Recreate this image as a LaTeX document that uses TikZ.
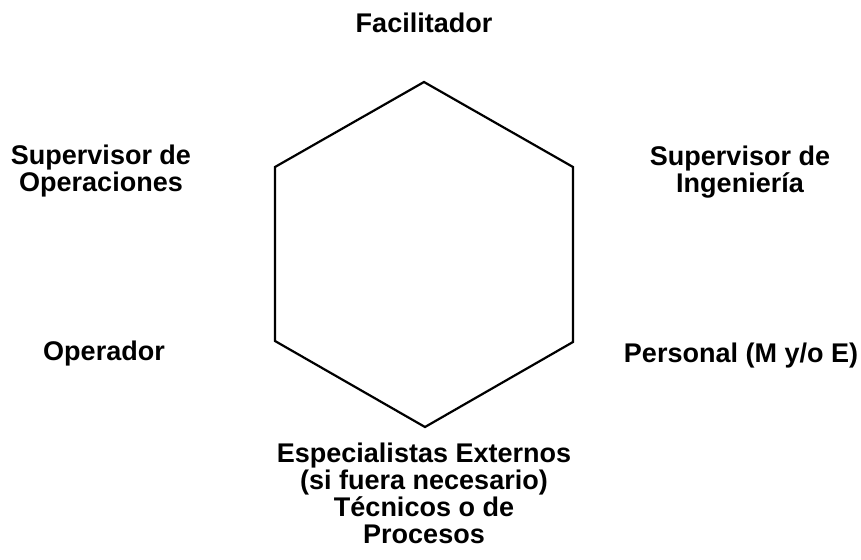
\documentclass[tikz,border=0pt]{standalone}
\usepackage{fontspec}
\setmainfont{Liberation Sans}
\begin{document}
\begin{tikzpicture}[x=1pt,y=-1pt,
  lbl/.style={font=\bfseries\fontsize{27}{27}\selectfont, align=center, anchor=base, inner sep=0pt},
  hex/.style={draw=black, line width=2.2pt, line join=miter}]
\useasboundingbox (0,0) rectangle (861,559);
\coordinate (t) at (424,82);
\coordinate (ur) at (573,167);
\coordinate (lr) at (573,342);
\coordinate (b) at (425,427);
\coordinate (ll) at (275,341);
\coordinate (ul) at (275,167);
\draw[hex] (t) -- (ur) -- (lr) -- (b) -- (ll) -- (ul) -- cycle;
\node[lbl] (fac) at (424,33) {Facilitador};
\node[lbl] (sop) at (101,191) {Supervisor de\\Operaciones};
\node[lbl] (sin) at (740,192) {Supervisor de\\Ingeniería};
\node[lbl] (ope) at (104,360) {Operador};
\node[lbl] (per) at (741,362) {Personal (M y/o E)};
\node[lbl] (esp) at (424,543) {Especialistas Externos\\(si fuera necesario)\\Técnicos o de\\Procesos};
\end{tikzpicture}
\end{document}
